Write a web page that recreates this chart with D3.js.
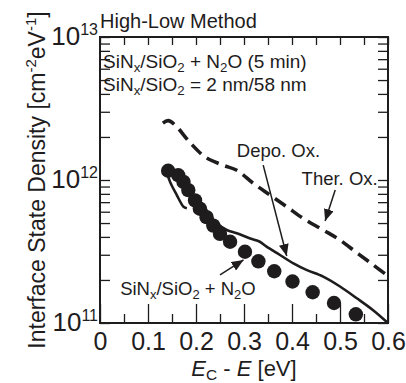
<!DOCTYPE html>
<html>
<head>
<meta charset="utf-8">
<script src="https://cdn.jsdelivr.net/npm/d3@7"></script>
<style>
  body { margin: 0; background: #fff; }
  svg { font-family: "Liberation Sans", Arial, sans-serif; }
</style>
</head>
<body>
<div class="chart"></div>
<script>
// Thermal oxide (dashed)
const therE = [0.131, 0.142, 0.156, 0.188, 0.219, 0.256, 0.285, 0.319, 0.354, 0.389, 0.423, 0.465, 0.5, 0.535, 0.569, 0.6];
const therD = [2.5e12, 2.6e12, 2.43e12, 1.82e12, 1.45e12, 1.27e12, 1.17e12, 9.5e11, 7.85e11, 6.5e11, 5.4e11, 4.47e11, 3.8e11, 3.1e11, 2.55e11, 2.13e11];

// Deposited oxide (solid, with the small loop at the start)
const depoE = [0.181, 0.174, 0.16, 0.146, 0.14, 0.142, 0.156, 0.171, 0.183, 0.2, 0.215, 0.225, 0.243, 0.264, 0.285, 0.313, 0.333, 0.347, 0.375, 0.403, 0.43, 0.465, 0.5, 0.535, 0.569, 0.6];
const depoD = [6.34e11, 6.5e11, 7.85e11, 9.7e11, 1.14e12, 1.21e12, 1.14e12, 9.7e11, 8.1e11, 7.2e11, 6.7e11, 5.9e11, 5.0e11, 4.47e11, 4.24e11, 3.9e11, 3.7e11, 3.42e11, 2.99e11, 2.61e11, 2.35e11, 2.11e11, 1.8e11, 1.49e11, 1.23e11, 1.0e11];

// SiNx/SiO2 + N2O (dots)
const n2oE = [0.142, 0.163, 0.174, 0.184, 0.198, 0.208, 0.222, 0.236, 0.25, 0.271, 0.302, 0.33, 0.363, 0.401, 0.443, 0.4875, 0.533];
const n2oD = [1.16e12, 1.08e12, 9.7e11, 8.5e11, 7.2e11, 6.3e11, 5.5e11, 4.8e11, 4.2e11, 3.7e11, 3.15e11, 2.7e11, 2.3e11, 1.95e11, 1.64e11, 1.38e11, 1.15e11];

const xTicks = [0, 0.1, 0.2, 0.3, 0.4, 0.5, 0.6];
const yTicks = [1e11, 1e12, 1e13];
const yExp = ["11", "12", "13"];

const W = 406, H = 383;
const margin = {top: 37, right: 18, bottom: 60, left: 100};
const ink = "#1e1c1c";

const x = d3.scaleLinear().domain([0, 0.6]).range([margin.left, W - margin.right]);
const y = d3.scaleLog().domain([1e11, 1e13]).range([H - margin.bottom, margin.top]);

const svg = d3.select(".chart")
  .append("svg")
  .attr("width", W)
  .attr("height", H)
  .style("color", ink)
  .attr("fill", ink);

svg.append("defs").append("marker")
  .attr("id", "head")
  .attr("markerUnits", "userSpaceOnUse")
  .attr("viewBox", "0 0 12 10")
  .attr("refX", 12).attr("refY", 5)
  .attr("markerWidth", 12).attr("markerHeight", 10)
  .attr("orient", "auto")
  .append("path")
  .attr("d", "M0,0 L12,5 L0,10 Z")
  .attr("fill", ink);

// minor tick positions
const xMinor = d3.range(0.05, 0.6, 0.1);
const xAll = d3.range(0, 13).map(i => i * 0.05);
const yMinor = [];
[1e11, 1e12].forEach(dec => { for (let k = 2; k <= 9; k++) yMinor.push(k * dec); });

const x0 = x.range()[0], x1 = x.range()[1];
const y0 = y.range()[0], y1 = y.range()[1];

function strip(g) {
  g.select(".domain").remove();
  g.selectAll("line").attr("stroke", ink).attr("stroke-width", 1.3);
}

// bottom axis
svg.append("g")
  .attr("transform", `translate(0,${y0})`)
  .call(d3.axisBottom(x).tickValues(xTicks).tickSizeInner(-19).tickSizeOuter(0).tickPadding(9)
    .tickFormat(d => d === 0 ? "0" : d3.format(".1f")(d)))
  .call(strip)
  .call(g => g.selectAll("text").attr("fill", ink).style("font-size", "25px").attr("font-family", null));

svg.append("g")
  .attr("transform", `translate(0,${y0})`)
  .call(d3.axisBottom(x).tickValues(xMinor).tickSizeInner(-9).tickSizeOuter(0).tickFormat(""))
  .call(strip);

// top axis
svg.append("g")
  .attr("transform", `translate(0,${y1})`)
  .call(d3.axisTop(x).tickValues(xAll).tickSizeInner(-8).tickSizeOuter(0).tickFormat(""))
  .call(strip);

// left and right axes
svg.append("g")
  .attr("transform", `translate(${x0},0)`)
  .call(d3.axisLeft(y).tickValues(yTicks.concat(yMinor)).tickSizeInner(-10).tickSizeOuter(0).tickFormat(""))
  .call(strip);

svg.append("g")
  .attr("transform", `translate(${x1},0)`)
  .call(d3.axisRight(y).tickValues(yTicks.concat(yMinor)).tickSizeInner(-10).tickSizeOuter(0).tickFormat(""))
  .call(strip);

// y tick labels 10^n
yTicks.forEach((v, i) => {
  const t = svg.append("text")
    .attr("x", x0 - 2)
    .attr("y", y(v) + 8)
    .attr("text-anchor", "end")
    .style("font-size", "26px");
  t.append("tspan").text("10");
  t.append("tspan").attr("dy", -10).style("font-size", "16px").text(yExp[i]);
});

// frame
svg.append("rect")
  .attr("x", x0).attr("y", y1)
  .attr("width", x1 - x0).attr("height", y0 - y1)
  .attr("fill", "none").attr("stroke", ink).attr("stroke-width", 2);

// curves
const line = d3.line().x(d => x(d[0])).y(d => y(d[1])).curve(d3.curveCatmullRom.alpha(0.5));

svg.append("path")
  .datum(therE.map((e, i) => [e, therD[i]]))
  .attr("d", line)
  .attr("fill", "none")
  .attr("stroke", ink)
  .attr("stroke-width", 3.6)
  .attr("stroke-dasharray", "13,7");

svg.selectAll("circle.n2o")
  .data(n2oE.map((e, i) => [e, n2oD[i]]))
  .enter()
  .append("circle")
  .attr("class", "n2o")
  .attr("cx", d => x(d[0]))
  .attr("cy", d => y(d[1]))
  .attr("r", 7.2)
  .attr("fill", ink);

svg.append("path")
  .datum(depoE.map((e, i) => [e, depoD[i]]))
  .attr("d", line)
  .attr("fill", "none")
  .attr("stroke", ink)
  .attr("stroke-width", 2.6);

// text with sub/superscripts: parts are [string, "n"|"sub"|"it"]
function rich(sel, parts, size) {
  let shift = 0;
  parts.forEach(([s, mode]) => {
    const ts = sel.append("tspan").text(s);
    const want = mode === "sub" ? Math.round(size * 0.2) : 0;
    if (want !== shift) { ts.attr("dy", want - shift); shift = want; }
    if (mode === "sub") ts.style("font-size", (size * 0.7) + "px");
    if (mode === "it") ts.style("font-style", "italic");
  });
  return sel;
}

function label(px, py, parts, size) {
  const t = svg.append("text").attr("x", px).attr("y", py).style("font-size", size + "px");
  return rich(t, parts, size);
}

label(x0, 28, [["High-Low Method", "n"]], 20);
label(x0 + 3, 68, [["SiN", "n"], ["x", "sub"], ["/SiO", "n"], ["2", "sub"], [" + N", "n"], ["2", "sub"], ["O (5 min)", "n"]], 19);
label(x0 + 3, 91, [["SiN", "n"], ["x", "sub"], ["/SiO", "n"], ["2", "sub"], [" = 2 nm/58 nm", "n"]], 19);

label(x(0.285), y(1.455e12), [["Depo. Ox.", "n"]], 18.5);
label(x(0.42), y(9.2e11), [["Ther. Ox.", "n"]], 18.5);
label(x(0.042), y(1.57e11), [["SiN", "n"], ["x", "sub"], ["/SiO", "n"], ["2", "sub"], [" + N", "n"], ["2", "sub"], ["O", "n"]], 18.5);

// arrows
const arrows = [
  [[0.34, 1.27e12], [0.389, 2.94e11]],
  [[0.49, 8.5e11], [0.469, 5.16e11]],
  [[0.25, 2.17e11], [0.299, 2.76e11]]
];
arrows.forEach(([a, b]) => {
  svg.append("line")
    .attr("x1", x(a[0])).attr("y1", y(a[1]))
    .attr("x2", x(b[0])).attr("y2", y(b[1]))
    .attr("stroke", ink).attr("stroke-width", 1.5)
    .attr("marker-end", "url(#head)");
});

// axis titles
rich(svg.append("text")
  .attr("x", (x0 + x1) / 2).attr("y", 376)
  .attr("text-anchor", "middle")
  .style("font-size", "22px"),
  [["E", "it"], ["C", "sub"], [" - ", "n"], ["E", "it"], [" [eV]", "n"]], 22);

const yt = svg.append("text")
  .attr("transform", `translate(45,${(y0 + y1) / 2}) rotate(-90)`)
  .attr("text-anchor", "middle")
  .style("font-size", "23px");
yt.append("tspan").text("Interface State Density [cm");
yt.append("tspan").attr("dy", -9).style("font-size", "15px").text("-2");
yt.append("tspan").attr("dy", 9).text("eV");
yt.append("tspan").attr("dy", -9).style("font-size", "15px").text("-1");
yt.append("tspan").attr("dy", 9).text("]");
</script>
</body>
</html>
